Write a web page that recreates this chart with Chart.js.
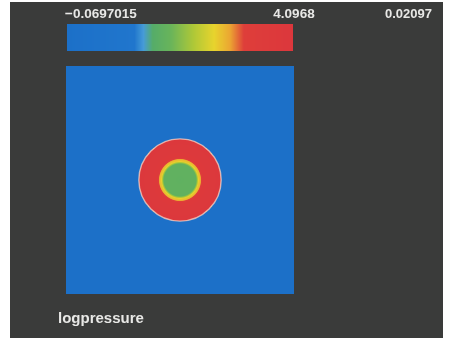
<!DOCTYPE html>
<html><head><meta charset="utf-8">
<script src="https://cdn.jsdelivr.net/npm/chart.js@4/dist/chart.umd.min.js"></script>
<style>html,body{margin:0;padding:0;background:#fff}</style>
</head><body>
<canvas id="c" width="450" height="342"></canvas>
<script>
// Field snapshot: log pressure of a circular blast wave
const fieldName = 'logpressure';
const timeLabel = '0.02097';
const colorRange = [-0.0697015, 4.0968];
const blastCenter = [0.5, 0.5];
// radial logpressure profile (radius in domain units -> value)
const profileRadius = [0, 0.070, 0.076, 0.082, 0.089, 0.094, 0.100, 0.178, 0.1805, 0.1806, 1.0];
const profileValue  = [1.70, 1.72, 2.2, 2.72, 2.80, 3.2, 3.85, 3.92, 3.92, -0.0697015, -0.0697015];
const shockRadius = 0.1805;
// colour map: stop positions (fraction of range) and RGB colours
const cmapStops  = [0, 0.30, 0.34, 0.38, 0.46, 0.56, 0.65, 0.72, 0.78, 1];
const cmapColors = [[28,112,200],[32,118,205],[70,155,215],[85,172,105],[105,180,90],
                    [175,200,55],[232,212,45],[235,165,50],[222,62,58],[220,55,60]];

function interp(xs, ys, x) {
  if (x <= xs[0]) return ys[0];
  for (let i = 1; i < xs.length; i++) {
    if (x <= xs[i]) {
      const t = (x - xs[i-1]) / (xs[i] - xs[i-1]);
      return ys[i-1] + t * (ys[i] - ys[i-1]);
    }
  }
  return ys[ys.length - 1];
}
function colorFor(v) {
  const f = Math.min(1, Math.max(0, (v - colorRange[0]) / (colorRange[1] - colorRange[0])));
  let i = 1;
  while (i < cmapStops.length - 1 && f > cmapStops[i]) i++;
  const t = (f - cmapStops[i-1]) / (cmapStops[i] - cmapStops[i-1] || 1);
  const a = cmapColors[i-1], b = cmapColors[i];
  return [0,1,2].map(k => Math.round(a[k] + Math.max(0, Math.min(1, t)) * (b[k] - a[k])));
}
function fmt(v) { return String(v).replace('-', '\u2212'); }

const fieldPlugin = {
  id: 'fieldPlot',
  beforeDraw(chart) {
    const ctx = chart.ctx;
    ctx.save();
    ctx.fillStyle = '#3a3b3a';
    ctx.fillRect(10, 2, 433, 336);
    ctx.restore();
  },
  beforeDatasetsDraw(chart) {
    const { ctx, chartArea: a, scales } = chart;
    const xs = scales.x, ys = scales.y, cb = scales.cb;
    // field image
    const x0 = Math.round(a.left), y0 = Math.round(a.top);
    const w = Math.round(a.right) - x0, h = Math.round(a.bottom) - y0;
    const off = document.createElement('canvas');
    off.width = w; off.height = h;
    const octx = off.getContext('2d');
    const img = octx.createImageData(w, h);
    for (let j = 0; j < h; j++) {
      const yv = ys.getValueForPixel(y0 + j + 0.5);
      for (let i = 0; i < w; i++) {
        const xv = xs.getValueForPixel(x0 + i + 0.5);
        const r = Math.hypot(xv - blastCenter[0], yv - blastCenter[1]);
        const c = colorFor(interp(profileRadius, profileValue, r));
        const p = (j * w + i) * 4;
        img.data[p] = c[0]; img.data[p+1] = c[1]; img.data[p+2] = c[2]; img.data[p+3] = 255;
      }
    }
    octx.putImageData(img, 0, 0);
    ctx.save();
    ctx.drawImage(off, x0, y0);
    // shock front outline
    const cx = xs.getPixelForValue(blastCenter[0]), cy = ys.getPixelForValue(blastCenter[1]);
    const rp = xs.getPixelForValue(blastCenter[0] + shockRadius) - cx;
    ctx.beginPath();
    ctx.arc(cx, cy, rp, 0, Math.PI * 2);
    ctx.strokeStyle = 'rgba(240,205,195,0.8)';
    ctx.lineWidth = 1.4;
    ctx.stroke();

    // colour bar
    const barTop = 24, barBottom = 51;
    for (let px = Math.round(cb.left) + 1; px < Math.round(cb.right) - 1; px++) {
      const c = colorFor(cb.getValueForPixel(px + 0.5));
      ctx.fillStyle = `rgb(${c[0]},${c[1]},${c[2]})`;
      ctx.fillRect(px, barTop, 1, barBottom - barTop);
    }

    // labels
    ctx.fillStyle = '#e8e8e6';
    ctx.font = 'bold 13.5px "Liberation Sans", Arial, sans-serif';
    ctx.textBaseline = 'alphabetic';
    ctx.textAlign = 'left';
    ctx.fillText(fmt(colorRange[0]), cb.left - 1, 18);
    ctx.textAlign = 'center';
    ctx.fillText(fmt(colorRange[1]), cb.right, 18);
    ctx.font = 'bold 13px "Liberation Sans", Arial, sans-serif';
    ctx.textAlign = 'right';
    ctx.fillText(timeLabel, 432, 18);
    ctx.textAlign = 'left';
    ctx.font = 'bold 15px "Liberation Sans", Arial, sans-serif';
    ctx.fillText(fieldName, 58, 323);
    ctx.restore();
  }
};

new Chart(document.getElementById('c'), {
  type: 'scatter',
  data: { datasets: [{ data: [{ x: blastCenter[0], y: blastCenter[1] }], pointRadius: 0 }] },
  options: {
    responsive: false,
    animation: false,
    layout: { padding: { left: 66, top: 66, right: 156, bottom: 48 } },
    plugins: { legend: { display: false }, tooltip: { enabled: false } },
    scales: {
      x: { type: 'linear', min: 0, max: 1, display: false },
      y: { type: 'linear', min: 0, max: 1, display: false },
      cb: { type: 'linear', axis: 'x', min: colorRange[0], max: colorRange[1], display: false }
    }
  },
  plugins: [fieldPlugin]
});
</script>
</body></html>
